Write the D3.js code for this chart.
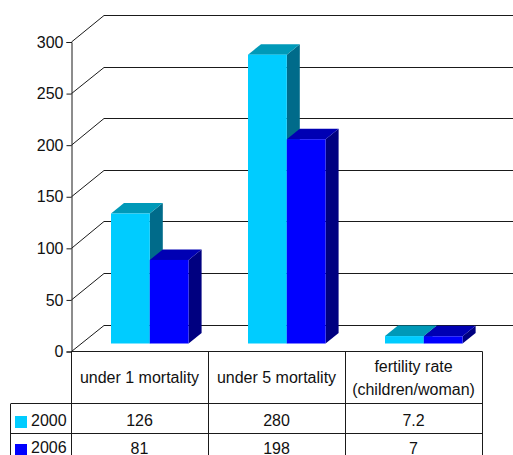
<!DOCTYPE html>
<html>
<head>
<meta charset="utf-8">
<script src="https://cdnjs.cloudflare.com/ajax/libs/d3/7.8.5/d3.min.js"></script>
<style>
html, body { margin: 0; padding: 0; background: #fff; overflow: hidden; }
text { font-family: "Liberation Sans", Arial, sans-serif; fill: #111; }
</style>
</head>
<body>
<svg id="chart" width="513" height="455"></svg>
<script>
const categories = ["under 1 mortality", "under 5 mortality", "fertility rate (children/woman)"];
const categoryLines = [["under 1 mortality"], ["under 5 mortality"], ["fertility rate", "(children/woman)"]];
const seriesNames = ["2000", "2006"];
const values2000 = [126, 280, 7.2];
const values2006 = [81, 198, 7];
const tickValues = [0, 50, 100, 150, 200, 250, 300];

const seriesValues = [values2000, values2006];
const frontColor = ["#00ccff", "#0000ff"];
const topColor = ["#0099b8", "#0000b3"];
const sideColor = ["#006b8a", "#000080"];

const X0 = 71, X1 = 482, Y0 = 351.5, Y1 = 42;
const BACK = {dx: 33, dy: -27};
const DEPTH = {dx: 13, dy: -10.5};
const BAR_LIFT = 8;
const BAR_W = 38.8;
const LINE = "#1a1a1a";

const svg = d3.select("#chart");
const x = d3.scaleBand().domain(categories).range([X0, X1]);
const y = d3.scaleLinear().domain([0, 300]).range([Y0, Y1]);
const snap = v => Math.round(v) + 0.5;

// back wall lines and the diagonals down to the axis
const grid = svg.append("g").attr("stroke", LINE).attr("fill", "none");
grid.selectAll("path")
    .data(tickValues)
    .join("path")
    .attr("d", d => `M${X0 + 0.5},${y(d)} L${X0 + BACK.dx},${snap(y(d) + BACK.dy)} L513,${snap(y(d) + BACK.dy)}`);

// bars, drawn first series first so the second one overlaps its side
const bars = svg.append("g");
categories.forEach((cat, c) => {
    const left = x(cat) + 40;
    seriesValues.forEach((vals, s) => {
        const bx = left + s * BAR_W;
        const base = Y0 - BAR_LIFT;
        const top = y(vals[c]) - BAR_LIFT;
        const g = bars.append("g");
        g.append("path").attr("fill", sideColor[s])
            .attr("d", `M${bx + BAR_W},${top} l${DEPTH.dx},${DEPTH.dy} V${base + DEPTH.dy} L${bx + BAR_W},${base} Z`);
        g.append("path").attr("fill", topColor[s])
            .attr("d", `M${bx},${top} l${DEPTH.dx},${DEPTH.dy} h${BAR_W} l${-DEPTH.dx},${-DEPTH.dy} Z`);
        g.append("rect").attr("fill", frontColor[s])
            .attr("x", bx).attr("y", top).attr("width", BAR_W).attr("height", base - top);
    });
});

// value axis
const axis = d3.axisLeft(y).tickValues(tickValues).tickSize(5).tickPadding(3).tickFormat(d3.format("d"));
const axisG = svg.append("g").attr("transform", `translate(${X0 + 0.5},0)`).call(axis);
axisG.selectAll("line,path").attr("stroke", LINE);
axisG.selectAll("text").attr("font-size", 16).attr("font-family", '"Liberation Sans", Arial, sans-serif').attr("fill", "#111");

// data table
const LEGEND_X = 11;
const ROW_TOP = [351.5, 403.5, 433.5, 463.5];
const table = svg.append("g").attr("stroke", LINE).attr("fill", "none");
const colEdges = categories.map(c => snap(x(c))).concat(snap(X1 - 0.5));
table.append("path").attr("d", `M${X0},${ROW_TOP[0]} H${colEdges[3]}`);
colEdges.forEach(e => table.append("path").attr("d", `M${e},${ROW_TOP[0]} V455`));
[ROW_TOP[1], ROW_TOP[2]].forEach(r => table.append("path").attr("d", `M${LEGEND_X},${r} H${colEdges[3]}`));
table.append("path").attr("d", `M${LEGEND_X - 0.5},${ROW_TOP[1]} V455`);

const labels = svg.append("g").attr("font-size", 16).attr("text-anchor", "middle");
categories.forEach((cat, c) => {
    const cx = x(cat) + x.bandwidth() / 2;
    const lines = categoryLines[c];
    lines.forEach((t, i) => {
        labels.append("text").attr("x", cx)
            .attr("y", 383 + (i - (lines.length - 1) / 2) * 23)
            .text(t);
    });
    seriesValues.forEach((vals, s) => {
        labels.append("text").attr("x", cx)
            .attr("y", 426 + s * 27.5)
            .text(vals[c]);
    });
});

seriesNames.forEach((name, s) => {
    svg.append("rect").attr("x", 15).attr("y", 416 + s * 28).attr("width", 12).attr("height", 12).attr("fill", frontColor[s]);
    svg.append("text").attr("x", 31).attr("y", 426 + s * 27).attr("font-size", 16).text(name);
});
</script>
</body>
</html>
